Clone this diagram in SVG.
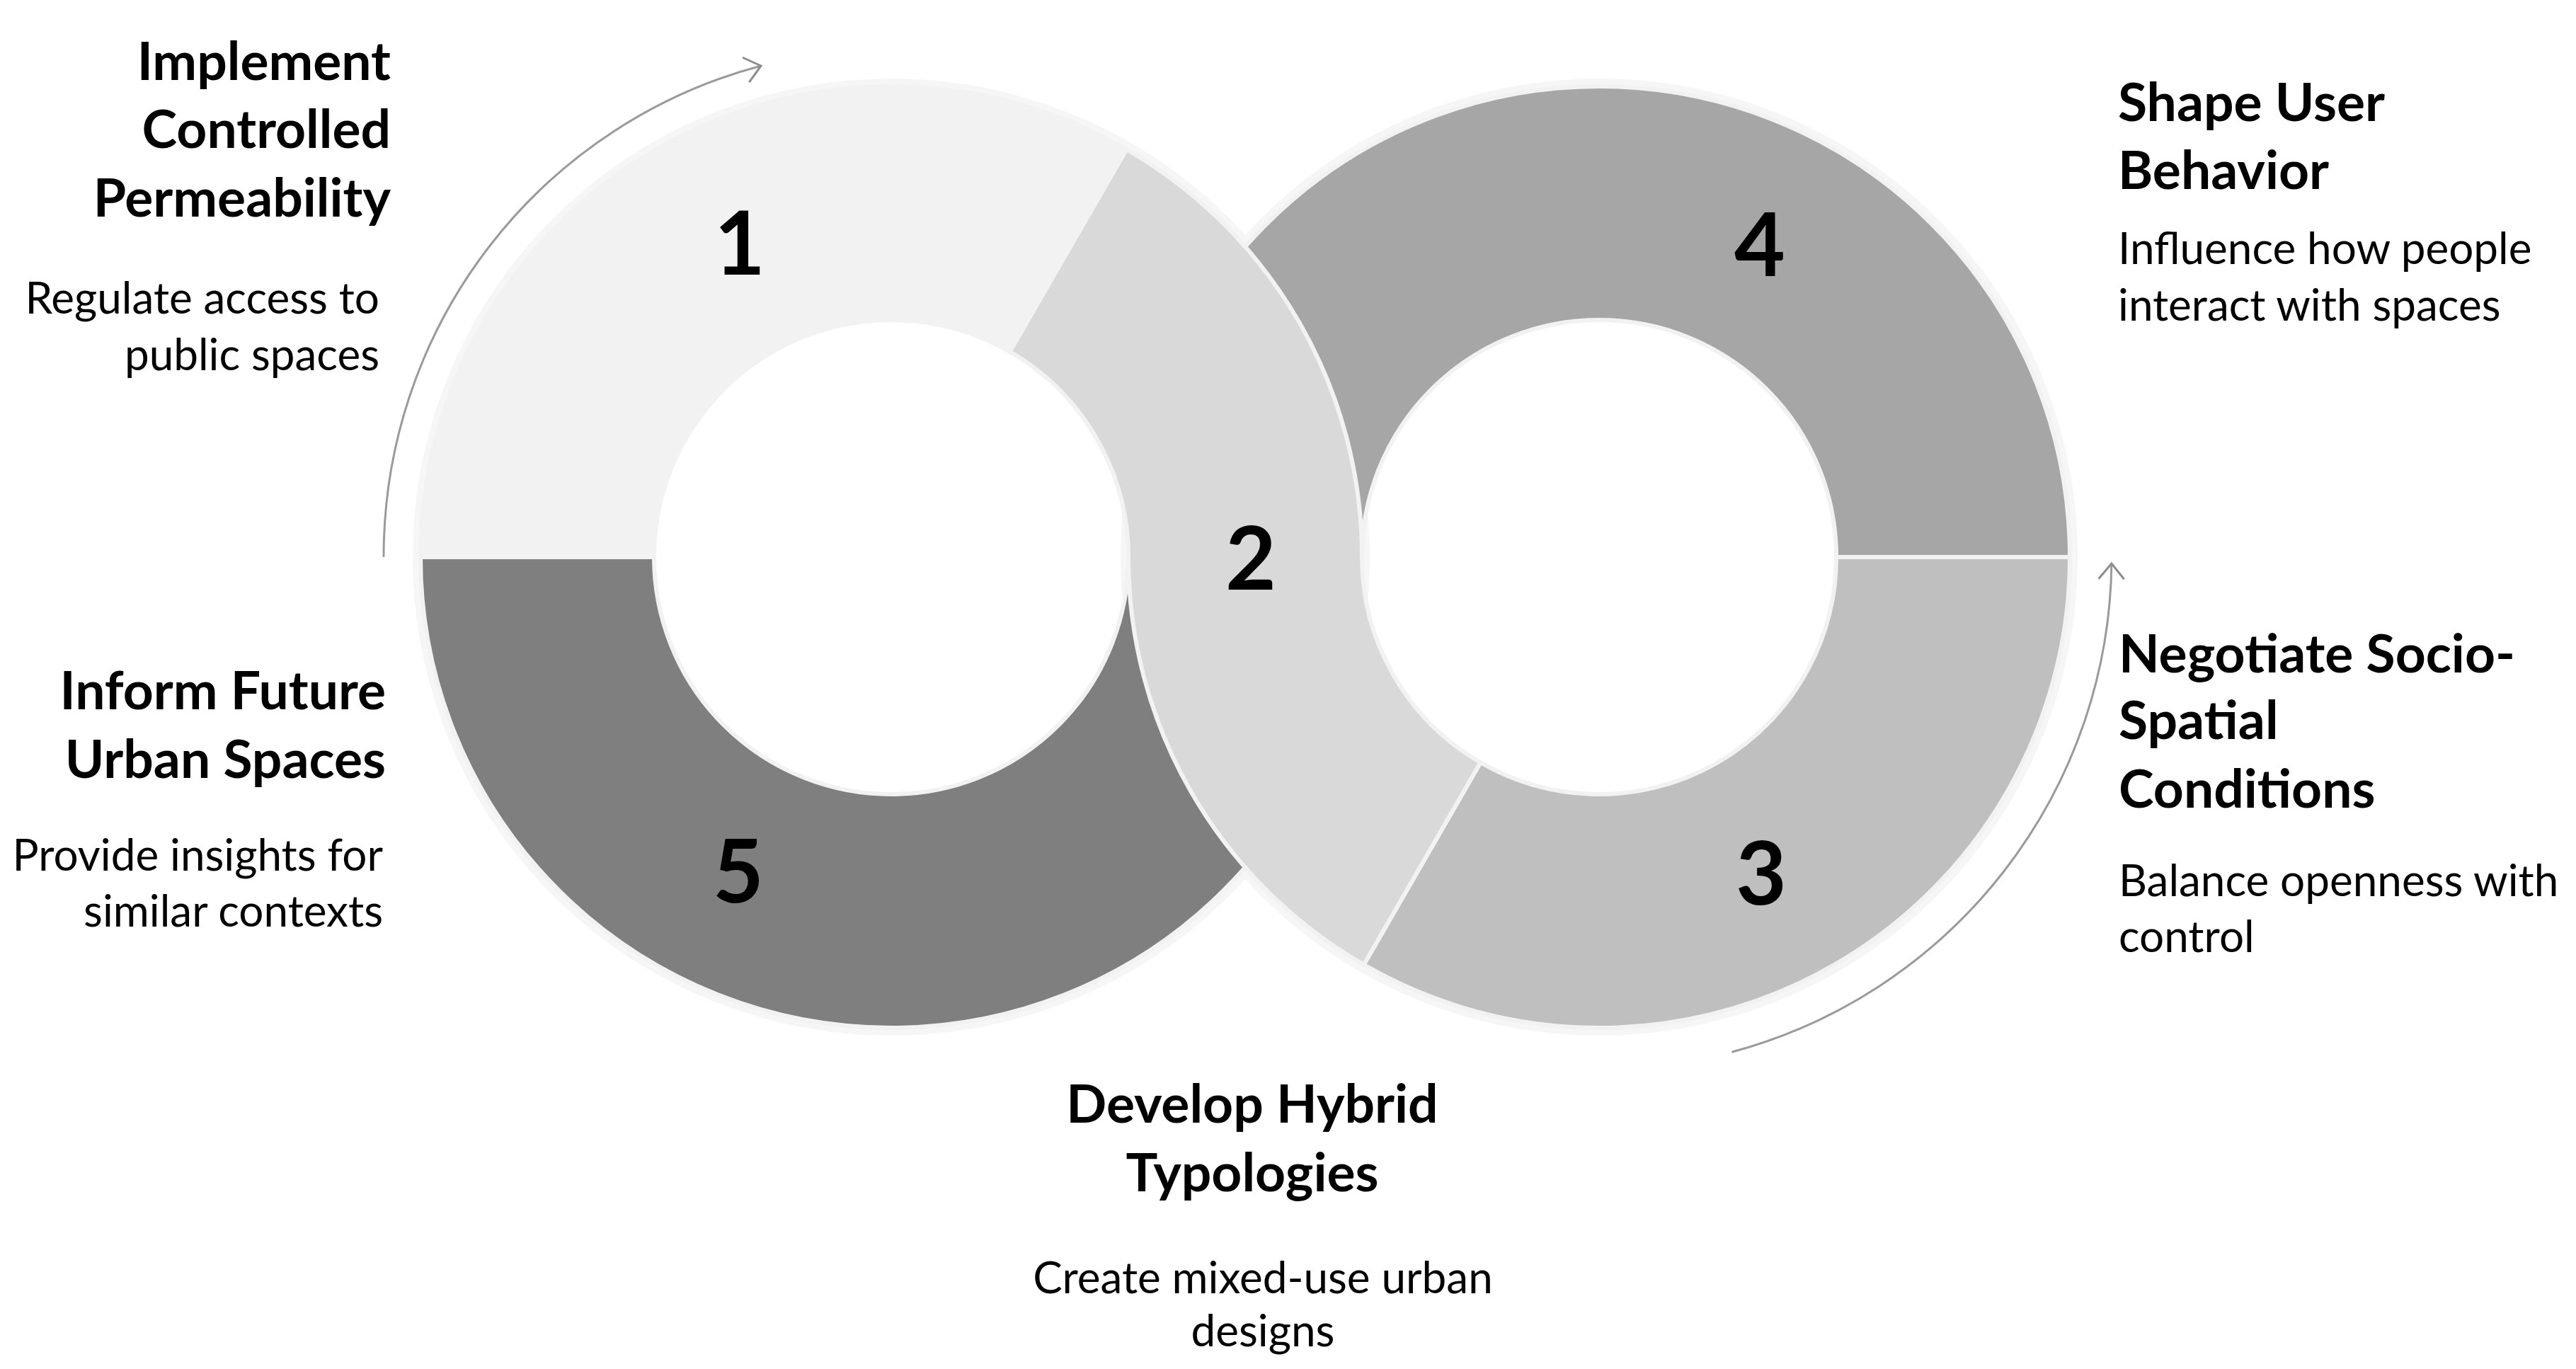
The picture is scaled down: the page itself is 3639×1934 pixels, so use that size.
<svg xmlns="http://www.w3.org/2000/svg" width="3639" height="1934" viewBox="0 0 3639 1934">
<style>
.seg{stroke:#f2f2f2;stroke-width:6;stroke-linejoin:round}
.num{font-family:Lato,"Liberation Sans",sans-serif;font-weight:700;font-size:124px;fill:#000;text-anchor:middle}
.title{font-family:Lato,"Liberation Sans",sans-serif;font-weight:700;font-size:75px;fill:#000}
.desc{font-family:Lato,"Liberation Sans",sans-serif;font-weight:400;font-size:62px;fill:#000}
.conn{fill:none;stroke:#9a9a9a;stroke-width:3}
.glow{fill:none;stroke:#f6f6f6;stroke-width:18}
</style>
<defs>
<marker id="chev" markerUnits="userSpaceOnUse" markerWidth="60" markerHeight="60" refX="30" refY="30" orient="auto" viewBox="0 0 60 60">
<path d="M8,12 L30,30 L8,48" fill="none" stroke="#8c8c8c" stroke-width="3"/>
</marker>
</defs>
<rect width="3639" height="1934" fill="#fff"/>
<g id="glow">
<circle class="glow" cx="1259" cy="787" r="667"/>
<circle class="glow" cx="2259" cy="787" r="667"/>
</g>
<g id="seg1">
<path class="seg" fill="#f2f2f2" d="M1591.5,211.1 A665,665 0 0 0 594,787 L924,787 A335,335 0 0 1 1426.5,496.9 Z"/>
<text class="num" x="1045" y="388">1</text>
</g>
<g id="seg5">
<path class="seg" fill="#7f7f7f" d="M594,787 A665,665 0 0 0 1924,787 L1594,787 A335,335 0 0 1 924,787 Z"/>
<text class="num" x="1043" y="1275">5</text>
</g>
<g id="seg4">
<path class="seg" fill="#a6a6a6" d="M2924,787 A665,665 0 0 0 1594,787 L1924,787 A335,335 0 0 1 2594,787 Z"/>
<text class="num" x="2486" y="390">4</text>
</g>
<g id="seg3">
<path class="seg" fill="#bfbfbf" d="M1926.5,1362.9 A665,665 0 0 0 2924,787 L2594,787 A335,335 0 0 1 2091.5,1077.1 Z"/>
<text class="num" x="2488" y="1278">3</text>
</g>
<g id="seg2">
<path class="seg" fill="#d9d9d9" d="M1591.5,211.1 A665,665 0 0 1 1924,787 A335,335 0 0 0 2091.5,1077.1 L1926.5,1362.9 A665,665 0 0 1 1594,787 A335,335 0 0 0 1426.5,496.9 Z"/>
<text class="num" x="1767" y="833">2</text>
</g>
<g id="connectors">
<path class="conn" marker-end="url(#chev)" d="M542,787 A717,717 0 0 1 1075,93"/>
<path class="conn" marker-end="url(#chev)" d="M2446.4,1486.3 A724,724 0 0 0 2982.9,796"/>
</g>
<g id="label1">
<text class="title" text-anchor="end"><tspan x="552" y="113">Implement</tspan><tspan x="552" y="209">Controlled</tspan><tspan x="552" y="306">Permeability</tspan></text>
<text class="desc" text-anchor="end"><tspan x="536" y="443">Regulate access to</tspan><tspan x="536" y="523">public spaces</tspan></text>
</g>
<g id="label2">
<text class="title" text-anchor="middle"><tspan x="1769" y="1586">Develop Hybrid</tspan><tspan x="1769" y="1683">Typologies</tspan></text>
<text class="desc" text-anchor="middle"><tspan x="1784" y="1827">Create mixed-use urban</tspan><tspan x="1784" y="1902">designs</tspan></text>
</g>
<g id="label3">
<text class="title"><tspan x="2993" y="950">Negotiate Socio-</tspan><tspan x="2993" y="1044">Spatial</tspan><tspan x="2993" y="1141">Conditions</tspan></text>
<text class="desc"><tspan x="2993" y="1266">Balance openness with</tspan><tspan x="2993" y="1345">control</tspan></text>
</g>
<g id="label4">
<text class="title"><tspan x="2992" y="171">Shape User</tspan><tspan x="2992" y="267">Behavior</tspan></text>
<text class="desc"><tspan x="2992" y="373">Influence how people</tspan><tspan x="2992" y="453">interact with spaces</tspan></text>
</g>
<g id="label5">
<text class="title" text-anchor="end"><tspan x="545" y="1002">Inform Future</tspan><tspan x="545" y="1099">Urban Spaces</tspan></text>
<text class="desc" text-anchor="end"><tspan x="541" y="1230">Provide insights for</tspan><tspan x="541" y="1309">similar contexts</tspan></text>
</g>
</svg>
